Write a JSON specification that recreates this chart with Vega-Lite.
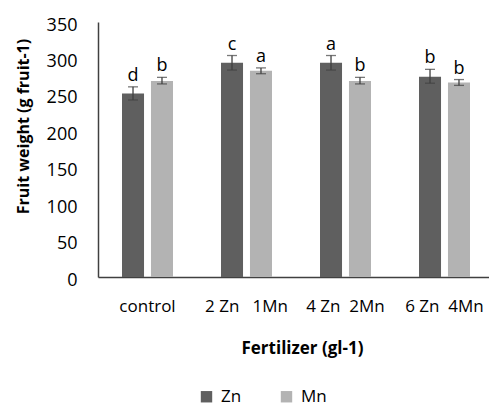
{
  "$schema": "https://vega.github.io/schema/vega-lite/v6.json",
  "autosize": "none",
  "padding": {"left": 98, "top": 22, "right": 0, "bottom": 127},
  "width": 391,
  "height": 255,
  "background": "white",
  "config": {
    "view": {"stroke": null},
    "font": "Open Sans",
    "axis": {"labelFont": "Open Sans", "titleFont": "Open Sans"},
    "axisY": {
      "labelFontSize": 18, "labelColor": "#000", "labelPadding": 21, "labelOverlap": false,
      "labelBound": false, "labelFlush": false, "labelOffset": 3, "labelSeparation": 0,
      "ticks": false, "tickSize": 0, "grid": false, "domainColor": "#404040", "domainWidth": 1.5,
      "titleFontWeight": "bold", "titleFontSize": 16, "titleColor": "#000",
      "titleX": -75, "titleY": 104, "titleBaseline": "middle", "titleAngle": -90, "titleAlign": "center"
    }
  },
  "data": {
    "values": [
      {"group": "control", "fert": "Zn", "mean": 252, "lo": 243, "hi": 261, "letter": "d"},
      {"group": "control", "fert": "Mn", "mean": 269, "lo": 265, "hi": 274, "letter": "b"},
      {"group": "2 Zn\u00a0\u00a0 1Mn", "fert": "Zn", "mean": 294, "lo": 284, "hi": 304, "letter": "c"},
      {"group": "2 Zn\u00a0\u00a0 1Mn", "fert": "Mn", "mean": 283, "lo": 279, "hi": 287, "letter": "a"},
      {"group": "4 Zn\u00a0 2Mn", "fert": "Zn", "mean": 294, "lo": 284, "hi": 304, "letter": "a"},
      {"group": "4 Zn\u00a0 2Mn", "fert": "Mn", "mean": 269, "lo": 265, "hi": 274, "letter": "b"},
      {"group": "6 Zn\u00a0 4Mn", "fert": "Zn", "mean": 275, "lo": 266, "hi": 285, "letter": "b"},
      {"group": "6 Zn\u00a0 4Mn", "fert": "Mn", "mean": 267, "lo": 263, "hi": 271, "letter": "b"}
    ]
  },
  "encoding": {
    "x": {
      "field": "group", "type": "nominal", "sort": null,
      "scale": {"paddingInner": 0.485, "paddingOuter": 0.2425, "range": [0, 396]},
      "axis": {
        "title": "Fertilizer (gl-1)", "titleFontWeight": "bold", "titleFontSize": 17, "titleColor": "#000",
        "titleX": 204, "titleY": 71, "titleBaseline": "middle", "titleAlign": "center",
        "labelAngle": 0, "labelFontSize": 17, "labelColor": "#000", "labelPadding": 21, "labelBaseline": "top",
        "labelOverlap": false, "labelBound": false, "labelFlush": false,
        "ticks": false, "tickSize": 0, "domainColor": "#404040", "domainWidth": 1.5, "grid": false
      }
    },
    "xOffset": {"field": "fert", "type": "nominal", "sort": ["Zn", "Mn"], "scale": {"paddingInner": 0.24, "paddingOuter": 0}}
  },
  "layer": [
    {
      "mark": {"type": "bar"},
      "encoding": {
        "y": {
          "field": "mean", "type": "quantitative",
          "scale": {"domain": [0, 350], "nice": false},
          "axis": {"title": "Fruit weight (g fruit-1)", "values": [0, 50, 100, 150, 200, 250, 300, 350], "labelOverlap": false, "tickCount": 8}
        },
        "color": {
          "field": "fert", "type": "nominal", "sort": ["Zn", "Mn"],
          "scale": {"domain": ["Zn", "Mn"], "range": ["#5f5f5f", "#b3b3b3"]},
          "legend": {
            "title": null, "orient": "none", "direction": "horizontal", "legendX": 100, "legendY": 366,
            "symbolType": "square", "symbolSize": 130, "symbolStrokeWidth": 0, "symbolOpacity": 1,
            "labelFontSize": 17, "labelColor": "#000", "labelFont": "Open Sans", "columnPadding": 36, "labelOffset": 6
          }
        }
      }
    },
    {
      "mark": {"type": "rule", "color": "#404040", "strokeWidth": 1.3},
      "encoding": {
        "y": {"field": "lo", "type": "quantitative", "axis": {"title": "Fruit weight (g fruit-1)", "values": [0, 50, 100, 150, 200, 250, 300, 350], "labelOverlap": false, "tickCount": 8}},
        "y2": {"field": "hi"}
      }
    },
    {
      "mark": {"type": "tick", "color": "#404040", "thickness": 1.3, "size": 10, "orient": "horizontal"},
      "encoding": {"y": {"field": "hi", "type": "quantitative", "axis": {"title": "Fruit weight (g fruit-1)", "values": [0, 50, 100, 150, 200, 250, 300, 350], "labelOverlap": false, "tickCount": 8}}}
    },
    {
      "mark": {"type": "tick", "color": "#404040", "thickness": 1.3, "size": 10, "orient": "horizontal"},
      "encoding": {"y": {"field": "lo", "type": "quantitative", "axis": {"title": "Fruit weight (g fruit-1)", "values": [0, 50, 100, 150, 200, 250, 300, 350], "labelOverlap": false, "tickCount": 8}}}
    },
    {
      "mark": {"type": "text", "fontSize": 18, "color": "#000", "dy": -6, "baseline": "alphabetic"},
      "encoding": {
        "y": {"field": "hi", "type": "quantitative", "axis": {"title": "Fruit weight (g fruit-1)", "values": [0, 50, 100, 150, 200, 250, 300, 350], "labelOverlap": false, "tickCount": 8}},
        "text": {"field": "letter"}
      }
    }
  ]
}
